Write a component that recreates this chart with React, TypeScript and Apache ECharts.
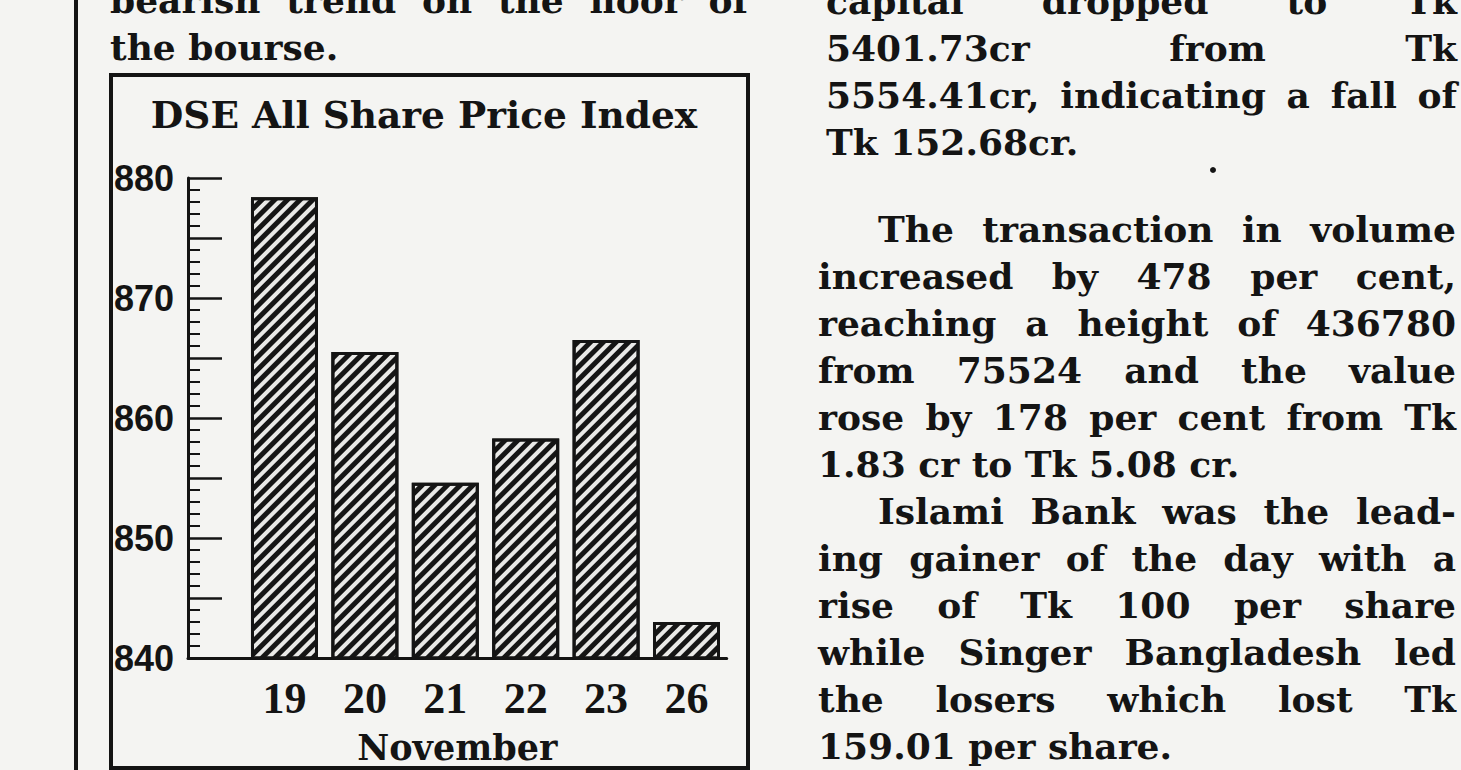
import React, { useEffect, useRef } from 'react';
import * as echarts from 'echarts';

// ---------------- data ----------------
const days: string[] = ['19', '20', '21', '22', '23', '26'];
const indexValues: number[] = [878.4, 865.5, 854.6, 858.3, 866.5, 843.0];
const chartTitle = 'DSE All Share Price Index';
const monthName = 'November';

const leftColumnLines: { text: string; justify: boolean; indent: boolean }[] = [
  { text: 'bearish trend on the floor of', justify: true, indent: false },
  { text: 'the bourse.', justify: false, indent: false },
];

const rightTopLines: { text: string; justify: boolean; indent: boolean }[] = [
  { text: 'capital dropped to Tk', justify: true, indent: false },
  { text: '5401.73cr from Tk', justify: true, indent: false },
  { text: '5554.41cr, indicating a fall of', justify: true, indent: false },
  { text: 'Tk 152.68cr.', justify: false, indent: false },
];

const rightBottomLines: { text: string; justify: boolean; indent: boolean }[] = [
  { text: 'The transaction in volume', justify: true, indent: true },
  { text: 'increased by 478 per cent,', justify: true, indent: false },
  { text: 'reaching a height of 436780', justify: true, indent: false },
  { text: 'from 75524 and the value', justify: true, indent: false },
  { text: 'rose by 178 per cent from Tk', justify: true, indent: false },
  { text: '1.83 cr to Tk 5.08 cr.', justify: false, indent: false },
  { text: 'Islami Bank was the lead-', justify: true, indent: true },
  { text: 'ing gainer of the day with a', justify: true, indent: false },
  { text: 'rise of Tk 100 per share', justify: true, indent: false },
  { text: 'while Singer Bangladesh led', justify: true, indent: false },
  { text: 'the losers which lost Tk', justify: true, indent: false },
  { text: '159.01 per share.', justify: false, indent: false },
];

// ---------------- layout ----------------
const W = 1461;
const H = 770;
const INK = '#141414';
const PAPER = '#f4f4f2';
const BODY_FAMILY = "'DejaVu Serif', serif";
const BODY_SIZE = 36;

let measureCtx: CanvasRenderingContext2D | null = null;
function measure(text: string, size: number, family: string): number {
  if (!measureCtx) measureCtx = document.createElement('canvas').getContext('2d');
  if (!measureCtx) return text.length * size * 0.6;
  measureCtx.font = `bold ${size}px ${family}`;
  return measureCtx.measureText(text).width;
}

function layoutLines(
  lines: { text: string; justify: boolean; indent: boolean }[],
  left: number,
  right: number,
  indent: number,
  firstBaseline: number,
  step: number
): any[] {
  const els: any[] = [];
  const fs = BODY_SIZE;
  const space = measure(' ', fs, BODY_FAMILY);
  lines.forEach((ln, i) => {
    const x0 = left + (ln.indent ? indent : 0);
    const words = ln.text.split(' ');
    const ws = words.map((w) => measure(w, fs, BODY_FAMILY));
    const sum = ws.reduce((a, b) => a + b, 0);
    const avail = right - x0;
    let gap = space;
    let sc = 1;
    const minGap = space * 0.7;
    if (ln.justify && words.length > 1) {
      gap = (avail - sum) / (words.length - 1);
      if (gap < minGap) {
        gap = minGap;
        sc = (avail - minGap * (words.length - 1)) / sum;
      }
    } else {
      const tot = sum + space * (words.length - 1);
      if (tot > avail) sc = (avail - space * (words.length - 1)) / sum;
    }
    const baseline = firstBaseline + i * step;
    let x = x0;
    words.forEach((w, j) => {
      els.push({
        type: 'text',
        x,
        y: baseline - fs * 0.35,
        scaleX: sc,
        silent: true,
        style: {
          text: w,
          fontSize: fs,
          fontFamily: BODY_FAMILY,
          fontWeight: 'bold',
          fill: INK,
          verticalAlign: 'middle',
          align: 'left',
        },
      });
      x += ws[j] * sc + gap;
    });
  });
  return els;
}

export default function App() {
  const ref = useRef<HTMLDivElement>(null);

  useEffect(() => {
    if (!ref.current) return;
    const chart = echarts.init(ref.current, undefined, { renderer: 'svg', width: W, height: H });

    const titleSize = 37.5;
    const titleW = measure(chartTitle, titleSize, BODY_FAMILY);
    const titleCenterX = 424;

    const graphics: any[] = [
      // column rule
      { type: 'rect', silent: true, shape: { x: 74, y: 0, width: 4, height: H }, style: { fill: INK } },
      // chart box
      {
        type: 'rect',
        silent: true,
        shape: { x: 111, y: 75, width: 637, height: 693 },
        style: { fill: 'none', stroke: INK, lineWidth: 4 },
      },
      // stray dot in text column
      { type: 'circle', silent: true, shape: { cx: 1213, cy: 170, r: 3 }, style: { fill: INK } },
      ...layoutLines(leftColumnLines, 110, 748, 0, 13, 47),
      ...layoutLines(rightTopLines, 826, 1457, 60, 14, 47),
      ...layoutLines(rightBottomLines, 818, 1456, 60, 242, 47),
    ];

    chart.setOption({
      animation: false,
      backgroundColor: PAPER,
      title: {
        text: chartTitle,
        left: titleCenterX - titleW / 2,
        top: 96,
        padding: 0,
        textStyle: {
          fontFamily: BODY_FAMILY,
          fontWeight: 'bold',
          fontSize: titleSize,
          color: INK,
        },
      },
      grid: { left: 188, top: 178, right: W - 726.7, bottom: H - 672, containLabel: false },
      xAxis: {
        type: 'value',
        min: -1.2,
        max: 5.5,
        splitLine: { show: false },
        axisTick: { show: false },
        axisLine: { show: true, onZero: false, lineStyle: { color: INK, width: 3 } },
        axisLabel: {
          customValues: [0, 1, 2, 3, 4, 5],
          formatter: (v: number) => days[Math.round(v)] ?? '',
          fontFamily: "'Liberation Serif', serif",
          fontWeight: 'bold',
          fontSize: 44,
          color: INK,
          margin: 18,
        },
        name: monthName,
        nameLocation: 'middle',
        nameGap: 72,
        nameTextStyle: {
          fontFamily: BODY_FAMILY,
          fontWeight: 'bold',
          fontSize: 35,
          color: INK,
        },
      },
      yAxis: {
        type: 'value',
        min: 840,
        max: 880,
        interval: 5,
        splitLine: { show: false },
        axisLine: { show: true, onZero: false, lineStyle: { color: INK, width: 3 } },
        axisTick: { show: true, inside: true, length: 34, lineStyle: { color: INK, width: 2.5 } },
        minorTick: { show: true, splitNumber: 5, length: 12, lineStyle: { color: INK, width: 2 } },
        axisLabel: {
          formatter: (v: number) => (v % 10 === 0 ? String(v) : ''),
          fontFamily: "'Liberation Sans Narrow', 'Liberation Sans', sans-serif",
          fontWeight: 'bold',
          fontSize: 36,
          color: INK,
          margin: 14,
        },
      },
      series: [
        {
          type: 'bar',
          barWidth: 67,
          data: days.map((d, i) => [i, indexValues[i]]),
          itemStyle: {
            color: '#e9e9e7',
            borderColor: INK,
            borderWidth: 3,
            decal: {
              symbol: 'rect',
              symbolSize: 1,
              symbolKeepAspect: false,
              color: '#151515',
              dashArrayX: [1, 0],
              dashArrayY: [4.5, 3.5],
              rotation: -Math.PI / 4,
            },
          },
        },
      ],
      graphic: graphics,
    });

    return () => {
      chart.dispose();
    };
  }, []);

  return (
    <div
      ref={ref}
      style={{ position: 'fixed', left: 0, top: 0, width: W, height: H, background: PAPER }}
    />
  );
}
